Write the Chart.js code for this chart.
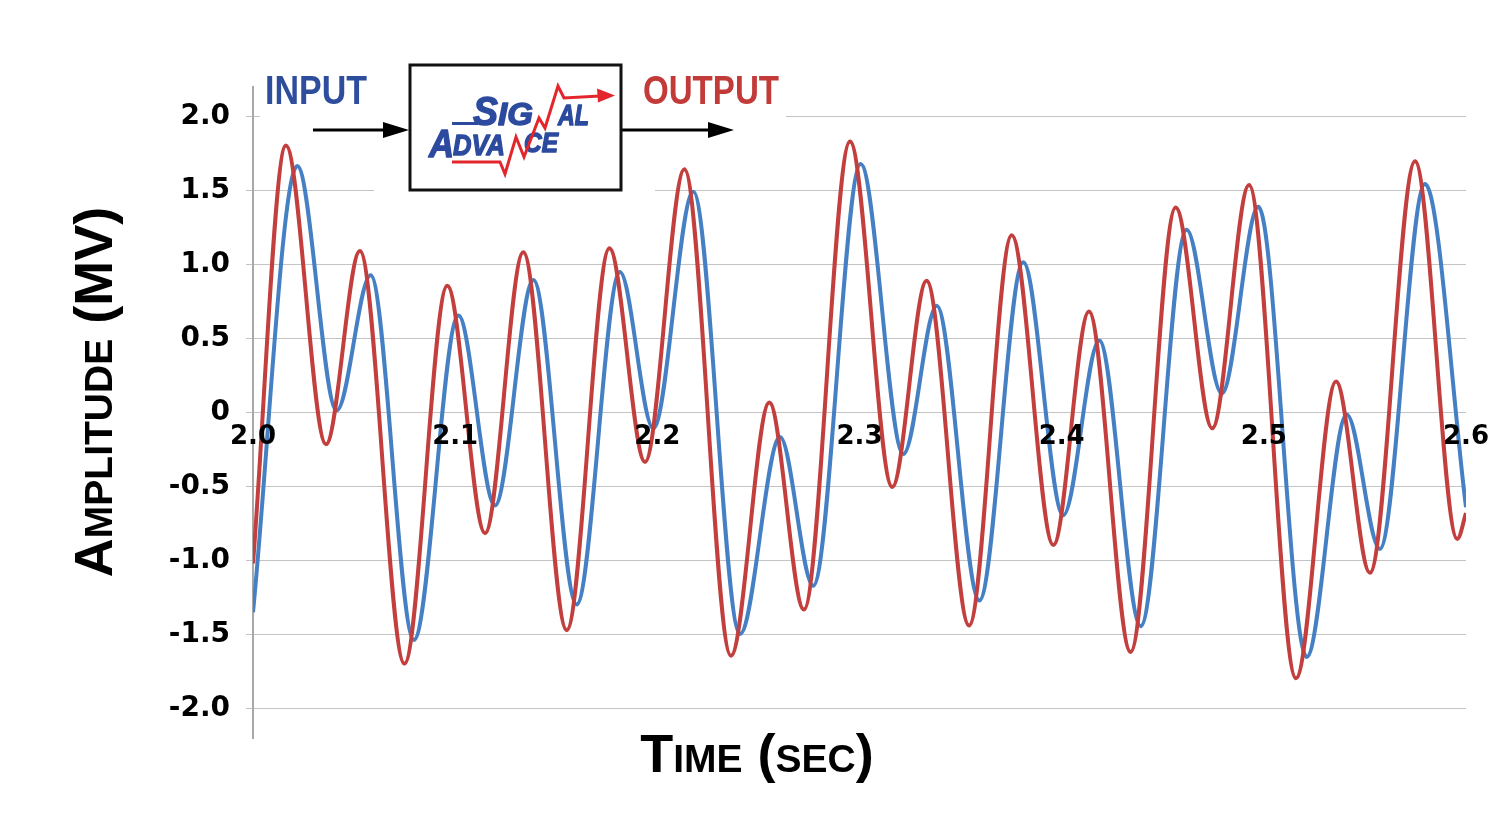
<!DOCTYPE html>
<html>
<head>
<meta charset="utf-8">
<title>Signal Advance</title>
<script src="https://cdn.jsdelivr.net/npm/chart.js@4.4.1/dist/chart.umd.min.js"></script>
<style>
  html, body { margin: 0; padding: 0; background: #fff; }
  #wrap { width: 1500px; height: 825px; }
</style>
</head>
<body>
<div id="wrap"><canvas id="chart" width="1500" height="825"></canvas></div>
<script>
// --- data (peaks / troughs of each trace) ---
const inputTime = [2.000, 2.0219, 2.0414, 2.0582, 2.0796, 2.1016, 2.1197, 2.1387, 2.1601, 2.1815,
  2.1980, 2.2178, 2.2409, 2.2607, 2.2771, 2.3006, 2.3217, 2.3382, 2.3593, 2.3810,
  2.4008, 2.4186, 2.4391, 2.4618, 2.4792, 2.4973, 2.5212, 2.5410, 2.5574, 2.5797, 2.600];
const inputAmp = [-1.35, 1.666, 0.013, 0.928, -1.537, 0.655, -0.628, 0.896, -1.297, 0.949,
  -0.107, 1.492, -1.497, -0.166, -1.171, 1.679, -0.281, 0.722, -1.270, 1.016,
  -0.695, 0.487, -1.444, 1.235, 0.128, 1.390, -1.652, -0.013, -0.922, 1.545, -0.64];

const outputTime = [2.000, 2.0163, 2.0361, 2.0529, 2.0749, 2.0961, 2.1148, 2.1337, 2.1552, 2.1763,
  2.1939, 2.2134, 2.2364, 2.2554, 2.2725, 2.2953, 2.3162, 2.3332, 2.3542, 2.3753,
  2.3959, 2.4135, 2.4341, 2.4564, 2.4745, 2.4927, 2.5159, 2.5357, 2.5525, 2.5748, 2.5957, 2.600];
const outputAmp = [-1.02, 1.805, -0.214, 1.091, -1.698, 0.856, -0.816, 1.083, -1.471, 1.110,
  -0.334, 1.644, -1.644, 0.067, -1.332, 1.832, -0.503, 0.890, -1.439, 1.198,
  -0.896, 0.682, -1.618, 1.385, -0.107, 1.537, -1.797, 0.209, -1.083, 1.698, -0.855, -0.68];

const xTicks = [2.0, 2.1, 2.2, 2.3, 2.4, 2.5, 2.6];
const yTicks = [-2.0, -1.5, -1.0, -0.5, 0, 0.5, 1.0, 1.5, 2.0];

const BLUE = '#4580c4';
const RED = '#c23f3d';

// --- helpers ---
const TITLE_FONT = '"Liberation Sans", Arial, sans-serif';

function drawRun(ctx, parts, x, y) {
  let total = 0;
  const widths = parts.map(p => {
    ctx.font = `bold ${p[1]}px ${TITLE_FONT}`;
    const w = ctx.measureText(p[0]).width;
    total += w;
    return w;
  });
  let cx = x - total / 2;
  parts.forEach((p, i) => {
    ctx.font = `bold ${p[1]}px ${TITLE_FONT}`;
    ctx.fillText(p[0], cx, y);
    cx += widths[i];
  });
}

function fitText(ctx, text, x, y, w, font, color, heavy) {
  ctx.save();
  ctx.font = font;
  const m = ctx.measureText(text).width;
  ctx.translate(x, y);
  ctx.scale(w / m, 1);
  ctx.fillStyle = color;
  ctx.textAlign = 'left';
  ctx.textBaseline = 'alphabetic';
  ctx.fillText(text, 0, 0);
  if (heavy) {
    ctx.lineWidth = heavy;
    ctx.strokeStyle = color;
    ctx.lineJoin = 'round';
    ctx.strokeText(text, 0, 0);
  }
  ctx.restore();
}

function arrow(ctx, x1, x2, y) {
  ctx.beginPath();
  ctx.moveTo(x1, y);
  ctx.lineTo(x2 - 20, y);
  ctx.lineWidth = 3;
  ctx.strokeStyle = '#000';
  ctx.stroke();
  ctx.beginPath();
  ctx.moveTo(x2, y);
  ctx.lineTo(x2 - 26, y - 8);
  ctx.lineTo(x2 - 26, y + 8);
  ctx.closePath();
  ctx.fillStyle = '#000';
  ctx.fill();
}

// --- titles, block diagram ---
const overlay = {
  id: 'overlay',
  beforeDatasetsDraw(chart) {
    const ctx = chart.ctx;
    ctx.save();
    ctx.fillStyle = '#fff';
    ctx.fillRect(260, 56, 526, 73);
    ctx.fillRect(374, 128, 281, 68);
    ctx.restore();
  },
  afterDraw(chart) {
    const ctx = chart.ctx;
    ctx.save();
    ctx.fillStyle = '#000';
    ctx.textAlign = 'left';
    ctx.textBaseline = 'alphabetic';

    // axis titles (small caps look)
    drawRun(ctx, [['T', 54], ['IME', 39], [' (', 54], ['SEC', 39], [')', 54]], 757, 772);
    ctx.save();
    ctx.translate(112, 392);
    ctx.rotate(-Math.PI / 2);
    drawRun(ctx, [['A', 54], ['MPLITUDE', 39], [' (', 54], ['MV', 54], [')', 54]], 0, 0);
    ctx.restore();

    // INPUT / OUTPUT
    fitText(ctx, 'INPUT', 265, 104, 102, `bold 40px ${TITLE_FONT}`, '#2e4d9c');
    fitText(ctx, 'OUTPUT', 643, 104, 136, `bold 40px ${TITLE_FONT}`, '#c33b39');
    arrow(ctx, 313, 409, 130);
    arrow(ctx, 621, 734, 130);

    // box
    ctx.lineWidth = 3;
    ctx.strokeStyle = '#111';
    ctx.strokeRect(410, 65, 211, 125);

    // logo
    const logo = '#2c4a9e';
    const it = s => `italic bold ${s}px ${TITLE_FONT}`;
    ctx.beginPath();
    ctx.moveTo(452, 123.5);
    ctx.lineTo(478, 123.5);
    ctx.lineWidth = 3;
    ctx.strokeStyle = logo;
    ctx.stroke();
    fitText(ctx, 'S', 473, 125, 25, it(40), logo, 1.4);
    fitText(ctx, 'IG', 498, 125, 35, it(31), logo, 1.4);
    fitText(ctx, 'AL', 558, 125, 31, it(29), logo, 1.4);
    fitText(ctx, 'A', 429, 157, 25, it(38), logo, 1.4);
    fitText(ctx, 'DVA', 453, 155, 52, it(29), logo, 1.4);
    fitText(ctx, 'CE', 524, 152, 34, it(27), logo, 1.4);

    ctx.beginPath();
    ctx.moveTo(452, 162);
    ctx.lineTo(500, 162);
    ctx.lineTo(505, 174);
    ctx.lineTo(516, 137);
    ctx.lineTo(524, 157);
    ctx.lineTo(539, 118);
    ctx.lineTo(545, 128);
    ctx.lineTo(558, 86);
    ctx.lineTo(564, 98);
    ctx.lineTo(600, 96);
    ctx.lineWidth = 3;
    ctx.strokeStyle = '#e3262b';
    ctx.lineJoin = 'miter';
    ctx.stroke();
    ctx.beginPath();
    ctx.moveTo(615, 95.5);
    ctx.lineTo(597, 88.5);
    ctx.lineTo(598, 102.5);
    ctx.closePath();
    ctx.fillStyle = '#e3262b';
    ctx.fill();

    ctx.restore();
  }
};

const tickFont = { family: '"DejaVu Sans", Verdana, sans-serif', weight: 'bold' };

new Chart(document.getElementById('chart'), {
  type: 'line',
  data: {
    datasets: [
      {
        label: 'Output',
        data: outputTime.map((t, i) => ({ x: t, y: outputAmp[i] })),
        borderColor: RED,
        borderWidth: 4,
        pointRadius: 0,
        cubicInterpolationMode: 'monotone',
        fill: false
      },
      {
        label: 'Input',
        data: inputTime.map((t, i) => ({ x: t, y: inputAmp[i] })),
        borderColor: BLUE,
        borderWidth: 4,
        pointRadius: 0,
        cubicInterpolationMode: 'monotone',
        fill: false
      }
    ]
  },
  options: {
    responsive: false,
    animation: false,
    layout: { padding: { left: 0, right: 34, top: 87, bottom: 87 } },
    plugins: {
      legend: { display: false },
      tooltip: { enabled: false }
    },
    scales: {
      x: {
        type: 'linear',
        min: 2.0,
        max: 2.6,
        position: { y: 0 },
        grid: { display: false, drawTicks: false },
        border: { display: false },
        ticks: {
          z: 1,
          color: '#000',
          font: { ...tickFont, size: 26 },
          padding: 9,
          maxRotation: 0,
          callback: v => v.toFixed(1)
        },
        afterBuildTicks: s => { s.ticks = xTicks.map(v => ({ value: v })); },
        afterFit: s => { s.paddingLeft = 0; s.paddingRight = 0; }
      },
      y: {
        type: 'linear',
        min: -2.2,
        max: 2.2,
        grid: { color: '#c4c4c4', lineWidth: 1, tickLength: 7 },
        border: { color: '#a8a8a8', width: 2 },
        ticks: {
          color: '#000',
          font: { ...tickFont, size: 28 },
          padding: 16,
          callback: v => v === 0 ? '0' : v.toFixed(1)
        },
        afterBuildTicks: s => { s.ticks = yTicks.map(v => ({ value: v })); },
        afterFit: s => { s.width = 253; s.paddingTop = 0; s.paddingBottom = 0; }
      }
    }
  },
  plugins: [overlay]
});
</script>
</body>
</html>
